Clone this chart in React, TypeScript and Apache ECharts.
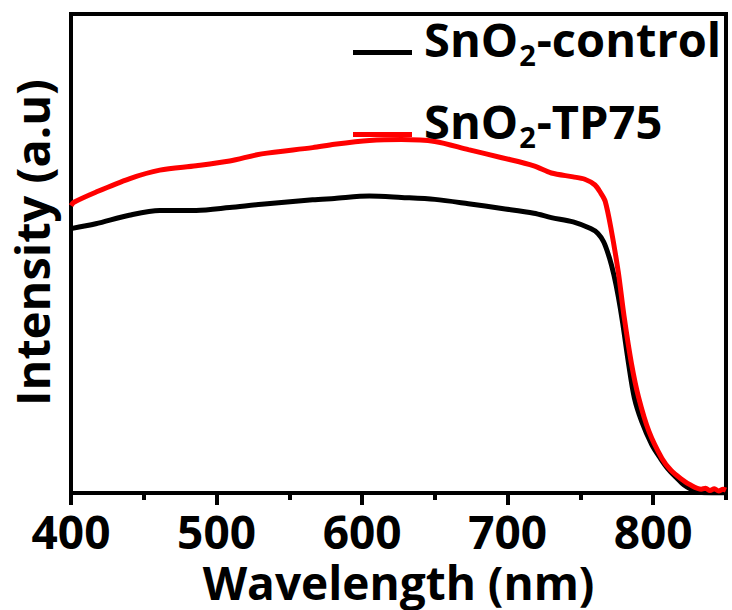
import React, { useEffect, useRef } from "react";
import * as echarts from "echarts";

const wavelengthControl = [400, 417, 440, 461, 486, 509, 531, 566, 581, 605, 627, 650, 673, 696, 718, 730, 745, 757, 762, 766, 770, 773, 776, 779, 783, 787, 792, 799, 805, 810, 816, 821, 826, 831, 840, 850];
const intensityControl = [55.2, 56.2, 58.0, 59.0, 59.0, 59.6, 60.3, 61.2, 61.5, 62.0, 61.7, 61.3, 60.4, 59.4, 58.4, 57.5, 56.6, 55.2, 54.2, 52.4, 49.0, 45.5, 41.0, 35.5, 27.1, 19.9, 15.0, 10.1, 7.2, 5.1, 3.2, 1.7, 0.8, 0.2, 0.0, 0.0];

const wavelengthTP75 = [400, 402, 417, 440, 461, 486, 509, 531, 566, 581, 605, 627, 650, 673, 696, 718, 730, 745, 753, 760, 764, 767, 771, 776, 780, 785, 790, 797, 806, 812, 819, 826, 833, 836, 839, 842, 845, 848, 850];
const intensityTP75 = [60.0, 60.7, 62.8, 65.6, 67.4, 68.3, 69.3, 70.8, 72.1, 72.8, 73.6, 73.8, 73.4, 71.7, 70.0, 68.3, 66.8, 66.0, 65.5, 64.3, 62.6, 60.9, 55.2, 46.1, 36.8, 27.1, 19.9, 12.9, 7.2, 4.8, 3.0, 1.6, 0.8, 1.0, 0.5, 0.9, 0.4, 0.8, 0.6];

const seriesNames = ["SnO2-control", "SnO2-TP75"];

const FONT = "Open Sans";

export default function App() {
  const ref = useRef<HTMLDivElement>(null);
  useEffect(() => {
    if (!ref.current) return;
    const chart = echarts.init(ref.current, null, { renderer: "svg" });
    const P = 28;
    const rich = {
      f: { fontFamily: FONT, fontWeight: "bold", fontSize: 47, color: "#000", padding: [0, 0, P, 7] },
      a: { fontFamily: FONT, fontWeight: "bold", fontSize: 47, color: "#000", padding: [0, 0, P, 0] },
      s: { fontFamily: FONT, fontWeight: "bold", fontSize: 29, color: "#000", padding: [32, 1, P, 1] },
    };
    const fmt = (name: string) => {
      const rest = name.replace("SnO2", "");
      return `{f|SnO}{s|2}{a|${rest}}`;
    };
    const legendBase = {
      left: 353,
      padding: 0,
      icon: "rect",
      itemWidth: 59,
      itemHeight: 5,
      itemGap: 0,
      formatter: fmt,
      textStyle: { rich },
    };
    chart.setOption({
      animation: false,
      backgroundColor: "#fff",
      grid: {
        left: 70,
        right: 6,
        top: 14,
        bottom: 117,
        show: true,
        borderColor: "#000",
        borderWidth: 4,
        containLabel: false,
      },
      legend: [
        { ...legendBase, data: [seriesNames[0]], top: 15 },
        { ...legendBase, data: [seriesNames[1]], top: 97 },
      ],
      xAxis: [
        {
          type: "value",
          min: 400,
          max: 850,
          interval: 100,
          position: "bottom",
          name: "Wavelength (nm)",
          nameLocation: "middle",
          nameGap: 58,
          nameTextStyle: { fontFamily: FONT, fontWeight: "bold", fontSize: 46, lineHeight: 36, color: "#000" },
          axisLine: { show: true, onZero: false, lineStyle: { color: "#000", width: 4 } },
          axisTick: { show: true, length: 12, lineStyle: { color: "#000", width: 4 } },
          axisLabel: {
            show: true,
            showMaxLabel: false,
            margin: 21,
            fontFamily: FONT,
            fontWeight: "bold",
            fontSize: 46,
            lineHeight: 34,
            color: "#000",
          },
          splitLine: { show: false },
        },
        {
          type: "value",
          min: 400,
          max: 850,
          interval: 50,
          position: "bottom",
          axisLine: { show: false },
          axisTick: { show: true, length: 7, lineStyle: { color: "#000", width: 4 } },
          axisLabel: { show: false },
          splitLine: { show: false },
        },
      ],
      yAxis: {
        type: "value",
        min: 0,
        max: 100,
        name: "Intensity (a.u)",
        nameLocation: "middle",
        nameRotate: 90,
        nameGap: 16,
        nameTextStyle: { fontFamily: FONT, fontWeight: "bold", fontSize: 47, color: "#000", padding: [0, 0, 0, 22] },
        axisLine: { show: true, onZero: false, lineStyle: { color: "#000", width: 4 } },
        axisTick: { show: false },
        axisLabel: { show: false },
        splitLine: { show: false },
      },
      series: [
        {
          name: seriesNames[0],
          type: "line",
          xAxisIndex: 0,
          data: wavelengthControl.map((w, i) => [w, intensityControl[i]]),
          showSymbol: false,
          smooth: 0.3,
          color: "#000",
          lineStyle: { color: "#000", width: 5 },
        },
        {
          name: seriesNames[1],
          type: "line",
          xAxisIndex: 0,
          data: wavelengthTP75.map((w, i) => [w, intensityTP75[i]]),
          showSymbol: false,
          smooth: 0.3,
          color: "#ff0000",
          lineStyle: { color: "#ff0000", width: 5 },
        },
      ],
    });
    return () => chart.dispose();
  }, []);
  return <div ref={ref} style={{ width: 732, height: 610, position: "absolute", left: 0, top: 0 }} />;
}
